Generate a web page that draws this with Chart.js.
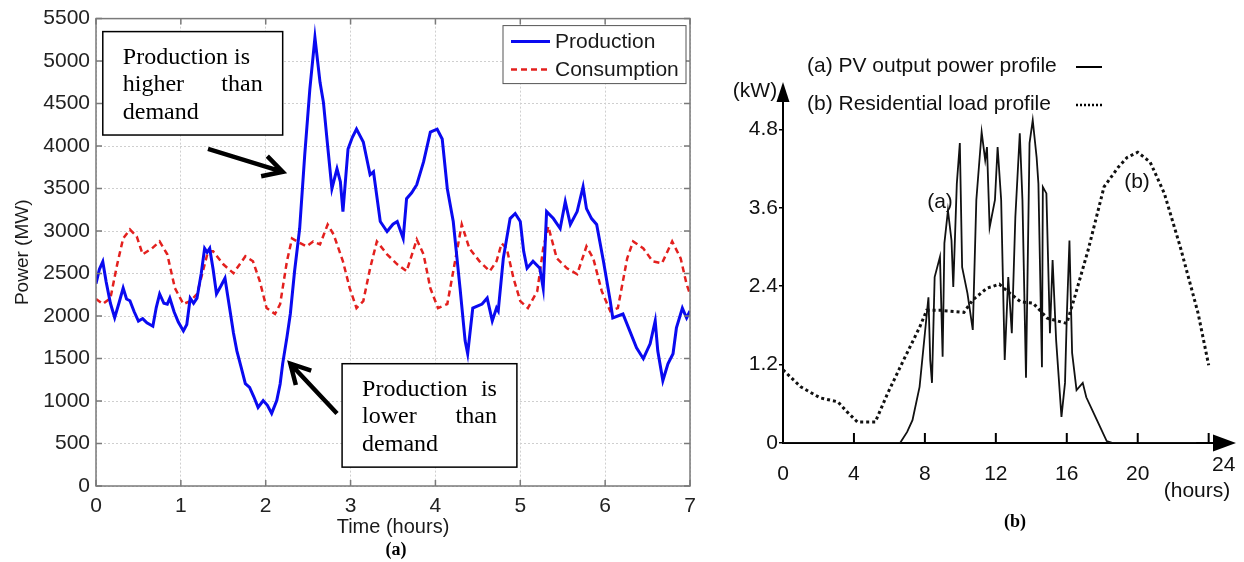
<!DOCTYPE html>
<html>
<head>
<meta charset="utf-8">
<script src="https://cdn.jsdelivr.net/npm/chart.js@4.4.0/dist/chart.umd.min.js"></script>
<style>
  html, body { margin: 0; padding: 0; background: #fff; width: 1244px; height: 562px; overflow: hidden; }
  #left { position: absolute; left: 0; top: 0; }
  #right { position: absolute; left: 705px; top: 0; }
</style>
</head>
<body>
<canvas id="left" width="705" height="562"></canvas>
<canvas id="right" width="539" height="562"></canvas>
<script>
// ---- (a) production vs consumption, 7 hours ----
const xTicksA = [0, 1, 2, 3, 4, 5, 6, 7];
const yTicksA = [0, 500, 1000, 1500, 2000, 2500, 3000, 3500, 4000, 4500, 5000, 5500];

const prodTime = [0.00, 0.04, 0.08, 0.12, 0.17, 0.22, 0.27, 0.32, 0.36, 0.40, 0.45, 0.50, 0.55, 0.60, 0.67, 0.71,
  0.75, 0.80, 0.84, 0.87, 0.92, 0.97, 1.03, 1.07, 1.11, 1.15, 1.19, 1.24, 1.28, 1.31, 1.34, 1.38, 1.42, 1.47,
  1.52, 1.55, 1.58, 1.62, 1.66, 1.71, 1.76, 1.81, 1.86, 1.91, 1.97, 2.02, 2.07, 2.13, 2.17, 2.20, 2.25, 2.29,
  2.34, 2.40, 2.46, 2.52, 2.58, 2.64, 2.68, 2.73, 2.78, 2.84, 2.88, 2.91, 2.97, 3.02, 3.07, 3.15, 3.23, 3.27,
  3.35, 3.43, 3.50, 3.55, 3.62, 3.66, 3.72, 3.78, 3.86, 3.94, 4.02, 4.08, 4.14, 4.21, 4.29, 4.35, 4.38, 4.44,
  4.50, 4.55, 4.61, 4.67, 4.72, 4.74, 4.80, 4.88, 4.94, 5.00, 5.04, 5.08, 5.15, 5.23, 5.27, 5.31, 5.39, 5.47,
  5.53, 5.59, 5.67, 5.74, 5.78, 5.84, 5.90, 5.98, 6.06, 6.09, 6.21, 6.29, 6.37, 6.45, 6.53, 6.59, 6.62, 6.68,
  6.74, 6.80, 6.84, 6.91, 6.96, 7.00];
const prodPower = [2380, 2550, 2640, 2400, 2150, 1980, 2150, 2330, 2200, 2180, 2050, 1940, 1970, 1920, 1880, 2100,
  2260, 2150, 2140, 2210, 2050, 1930, 1825, 1900, 2210, 2150, 2210, 2500, 2796, 2750, 2796, 2550, 2260, 2350,
  2445, 2250, 2060, 1800, 1590, 1400, 1205, 1160, 1050, 925, 1006, 950, 855, 1006, 1200, 1440, 1750, 2024,
  2527, 3030, 3900, 4670, 5277, 4750, 4516, 4000, 3498, 3732, 3580, 3229, 3966, 4100, 4200, 4048, 3662, 3697,
  3112, 2995, 3080, 3112, 2913, 3381, 3450, 3545, 3814, 4165, 4200, 4083, 3498, 3112, 2328, 1708, 1556, 2094,
  2120, 2141, 2211, 1942, 2094, 2059, 2679, 3147, 3206, 3112, 2761, 2562, 2644, 2562, 2328, 3229, 3147, 3030,
  3346, 3077, 3229, 3522, 3264, 3147, 3077, 2644, 2176, 1977, 2024, 1825, 1626, 1498, 1673, 1942, 1591, 1240,
  1439, 1556, 1860, 2094, 1977, 2059];

const consTime = [0.00, 0.08, 0.17, 0.25, 0.32, 0.40, 0.48, 0.55, 0.66, 0.75, 0.84, 0.93, 1.03, 1.11, 1.19, 1.26,
  1.32, 1.38, 1.50, 1.62, 1.76, 1.85, 1.93, 2.01, 2.11, 2.17, 2.25, 2.31, 2.37, 2.48, 2.56, 2.64, 2.73, 2.80,
  2.91, 2.99, 3.07, 3.15, 3.23, 3.31, 3.43, 3.55, 3.66, 3.78, 3.86, 3.94, 4.03, 4.14, 4.21, 4.31, 4.40, 4.52,
  4.64, 4.72, 4.78, 4.84, 4.92, 5.00, 5.09, 5.20, 5.27, 5.33, 5.43, 5.55, 5.67, 5.78, 5.86, 5.96, 6.06, 6.15,
  6.26, 6.33, 6.45, 6.56, 6.67, 6.79, 6.89, 6.96, 7.00];
const consPower = [2200, 2141, 2211, 2609, 2913, 3018, 2937, 2726, 2796, 2878, 2726, 2328, 2141, 2176, 2258, 2527,
  2761, 2761, 2609, 2504, 2703, 2644, 2410, 2094, 2024, 2141, 2644, 2913, 2878, 2820, 2878, 2843, 3077, 2960,
  2644, 2328, 2094, 2176, 2562, 2878, 2726, 2609, 2527, 2901, 2726, 2328, 2094, 2141, 2527, 3077, 2796, 2644,
  2527, 2644, 2855, 2796, 2445, 2176, 2094, 2293, 2796, 3054, 2679, 2562, 2492, 2820, 2679, 2293, 2059, 2094,
  2679, 2878, 2796, 2644, 2621, 2878, 2679, 2375, 2258];

const noteHigh = ['Production is', 'higher than', 'demand'];
const noteLow = ['Production is', 'lower than', 'demand'];

// ---- (b) PV output vs residential load, 24 hours ----
const xTicksB = [0, 4, 8, 12, 16, 20, 24];
const yTicksB = [0, 1.2, 2.4, 3.6, 4.8];

const pvHour = [0, 6.6, 7.0, 7.3, 7.7, 8.0, 8.2, 8.3, 8.4, 8.55, 8.85, 9.0, 9.1, 9.3, 9.5, 9.6, 9.8, 9.97, 10.1,
  10.4, 10.7, 10.9, 11.2, 11.4, 11.5, 11.65, 11.95, 12.1, 12.3, 12.5, 12.7, 12.9, 13.1, 13.35, 13.5, 13.7,
  13.9, 14.08, 14.3, 14.4, 14.6, 14.65, 14.85, 15.05, 15.2, 15.4, 15.7, 15.9, 16.0, 16.15, 16.3, 16.55, 16.9,
  17.1, 17.7, 18.25, 18.6, 23.3];
const pvKw = [0, 0, 0.17, 0.35, 0.86, 1.68, 2.23, 1.27, 0.92, 2.54, 2.85, 1.32, 3.06, 3.56, 3.1, 2.39, 3.97, 4.59, 2.69,
  2.29, 1.73, 3.72, 4.76, 4.33, 4.53, 3.30, 3.72, 4.53, 3.72, 1.27, 2.54, 1.68, 3.46, 4.74, 3.72, 1.0,
  4.59, 4.94, 4.37, 3.97, 1.16, 3.92, 3.82, 1.68, 2.8, 1.57, 0.4, 0.92, 1.93, 3.1, 1.38, 0.81, 0.92,
  0.7, 0.35, 0.03, 0, 0];

const loadHour = [0, 1, 2.1, 3.1, 3.6, 4.2, 5.2, 5.9, 6.8, 7.7, 8.1, 8.9, 10.2, 10.7, 11.5, 12.2, 12.8, 13.4, 14.1,
  14.9, 16.0, 16.4, 17.2, 18.1, 18.9, 19.4, 20.0, 20.7, 21.5, 22.4, 23.4, 24.0];
const loadKw = [1.12, 0.86, 0.69, 0.63, 0.48, 0.32, 0.32, 0.76, 1.27, 1.77, 2.03, 2.03, 2.0, 2.19, 2.37, 2.43, 2.29,
  2.16, 2.14, 1.91, 1.83, 2.19, 2.95, 3.92, 4.22, 4.37, 4.45, 4.3, 3.82, 3.0, 1.99, 1.19];

const OX = 705; // left edge of the right canvas on the page

Chart.defaults.font.family = '"Liberation Sans", Arial, sans-serif';
Chart.defaults.color = '#222';

const pts = (xs, ys) => xs.map((v, i) => ({ x: v, y: ys[i] }));
const SERIF = '"Liberation Serif", "Times New Roman", serif';

function arrow(ctx, x1, y1, x2, y2) {
  const ang = Math.atan2(y2 - y1, x2 - x1), L = 22, s = 0.5;
  ctx.beginPath();
  ctx.moveTo(x1, y1);
  ctx.lineTo(x2, y2);
  ctx.moveTo(x2 - L * Math.cos(ang - s), y2 - L * Math.sin(ang - s));
  ctx.lineTo(x2, y2);
  ctx.lineTo(x2 - L * Math.cos(ang + s), y2 - L * Math.sin(ang + s));
  ctx.stroke();
}

function noteBox(ctx, lines, justify, l, t, r, b) {
  ctx.fillStyle = '#fff';
  ctx.fillRect(l, t, r - l, b - t);
  ctx.strokeStyle = '#000';
  ctx.lineWidth = 1.5;
  ctx.strokeRect(l, t, r - l, b - t);
  ctx.fillStyle = '#000';
  ctx.font = '24px ' + SERIF;
  ctx.textBaseline = 'alphabetic';
  lines.forEach((ln, i) => {
    const by = t + 32 + i * 27.5;
    const words = ln.split(' ');
    ctx.textAlign = 'left';
    if (!justify[i] || words.length < 2) { ctx.fillText(ln, l + 20, by); return; }
    ctx.fillText(words[0], l + 20, by);
    ctx.textAlign = 'right';
    ctx.fillText(words[words.length - 1], r - 20, by);
  });
}

const leftDecor = {
  id: 'leftDecor',
  afterDraw(chart) {
    const { ctx, chartArea: a, scales: { x, y } } = chart;
    ctx.save();
    // axes box and inner ticks
    ctx.strokeStyle = '#7a7a7a';
    ctx.lineWidth = 1.5;
    ctx.strokeRect(a.left, a.top, a.right - a.left, a.bottom - a.top);
    ctx.beginPath();
    yTicksA.forEach(v => {
      const py = y.getPixelForValue(v);
      ctx.moveTo(a.left, py); ctx.lineTo(a.left + 6, py);
      ctx.moveTo(a.right, py); ctx.lineTo(a.right - 6, py);
    });
    xTicksA.forEach(t => {
      const px = x.getPixelForValue(t);
      ctx.moveTo(px, a.bottom); ctx.lineTo(px, a.bottom - 6);
      ctx.moveTo(px, a.top); ctx.lineTo(px, a.top + 6);
    });
    ctx.stroke();

    // legend
    const lx = a.right - 187, ly = a.top + 7;
    ctx.fillStyle = '#fff';
    ctx.fillRect(lx, ly, 183, 58);
    ctx.strokeStyle = '#555';
    ctx.lineWidth = 1;
    ctx.strokeRect(lx, ly, 183, 58);
    ctx.font = '21px "Liberation Sans", Arial, sans-serif';
    ctx.textAlign = 'left';
    ctx.textBaseline = 'middle';
    chart.data.datasets.forEach((ds, i) => {
      const yy = ly + 16 + i * 28;
      ctx.strokeStyle = ds.borderColor;
      ctx.lineWidth = ds.borderWidth;
      ctx.setLineDash(ds.borderDash || []);
      ctx.beginPath(); ctx.moveTo(lx + 8, yy); ctx.lineTo(lx + 47, yy); ctx.stroke();
      ctx.setLineDash([]);
      ctx.fillStyle = '#1a1a1a';
      ctx.fillText(ds.label, lx + 52, yy + 1);
    });

    // annotation boxes and arrows
    noteBox(ctx, noteHigh, [false, true, false],
      x.getPixelForValue(0.08), y.getPixelForValue(5347), x.getPixelForValue(2.2), y.getPixelForValue(4130));
    noteBox(ctx, noteLow, [true, true, false],
      x.getPixelForValue(2.9), y.getPixelForValue(1439), x.getPixelForValue(4.96), y.getPixelForValue(222));
    ctx.strokeStyle = '#000';
    ctx.lineWidth = 4.5;
    arrow(ctx, x.getPixelForValue(1.32), y.getPixelForValue(3966), x.getPixelForValue(2.2), y.getPixelForValue(3697));
    arrow(ctx, x.getPixelForValue(2.84), y.getPixelForValue(854), x.getPixelForValue(2.29), y.getPixelForValue(1439));

    // caption
    ctx.fillStyle = '#000';
    ctx.font = 'bold 18px ' + SERIF;
    ctx.textAlign = 'center';
    ctx.textBaseline = 'middle';
    ctx.fillText('(a)', 396, 550);
    ctx.restore();
  }
};

new Chart(document.getElementById('left'), {
  type: 'line',
  data: {
    datasets: [{
      label: 'Production',
      data: pts(prodTime, prodPower),
      borderColor: '#0a0af0',
      borderWidth: 3,
      pointRadius: 0,
      tension: 0
    }, {
      label: 'Consumption',
      data: pts(consTime, consPower),
      borderColor: '#e3201e',
      borderWidth: 2.5,
      borderDash: [6, 4],
      pointRadius: 0,
      tension: 0
    }]
  },
  options: {
    responsive: false,
    animation: false,
    devicePixelRatio: 1,
    layout: { padding: { left: 0, top: 16, right: 15, bottom: 0 } },
    plugins: { legend: { display: false }, tooltip: { enabled: false } },
    scales: {
      x: {
        type: 'linear', min: 0, max: 7,
        afterBuildTicks: s => { s.ticks = xTicksA.map(v => ({ value: v })); },
        afterFit: s => { s.height = 76; },
        ticks: { padding: 8, font: { size: 21 }, color: '#222', callback: v => String(v) },
        grid: { color: '#cfcfcf', lineWidth: 1, drawTicks: false },
        border: { display: false, dash: [2, 2] },
        title: { display: true, text: 'Time (hours)', font: { size: 20 }, color: '#1a1a1a', padding: { top: 0, bottom: 23 } }
      },
      y: {
        type: 'linear', min: 0, max: 5500,
        afterBuildTicks: s => { s.ticks = yTicksA.map(v => ({ value: v })); },
        afterFit: s => { s.width = 96; },
        ticks: { padding: 6, font: { size: 21 }, color: '#222', callback: v => String(v) },
        grid: { color: '#cfcfcf', lineWidth: 1, drawTicks: false },
        border: { display: false, dash: [2, 2] },
        title: { display: true, text: 'Power (MW)', font: { size: 19 }, color: '#1a1a1a', padding: { top: 11, bottom: 0 } }
      }
    }
  },
  plugins: [leftDecor]
});

const rightDecor = {
  id: 'rightDecor',
  afterDraw(chart) {
    const { ctx, chartArea: a, scales: { x, y } } = chart;
    const ax = x.getPixelForValue(0), ay = y.getPixelForValue(0);
    ctx.save();
    ctx.fillStyle = '#000';
    ctx.strokeStyle = '#000';
    // arrow heads on both axes
    ctx.beginPath();
    ctx.moveTo(ax, a.top - 18); ctx.lineTo(ax - 6.5, a.top + 2); ctx.lineTo(ax + 6.5, a.top + 2);
    ctx.closePath(); ctx.fill();
    ctx.beginPath();
    ctx.moveTo(a.right + 22, ay); ctx.lineTo(a.right - 1, ay - 8.5); ctx.lineTo(a.right - 1, ay + 8.5);
    ctx.closePath(); ctx.fill();
    // inner tick marks on the time axis
    ctx.lineWidth = 2;
    ctx.beginPath();
    xTicksB.forEach(h => {
      if (h === 0) return;
      const px = x.getPixelForValue(h);
      ctx.moveTo(px, ay); ctx.lineTo(px, ay - 10);
    });
    ctx.stroke();

    ctx.font = '21px "Liberation Sans", Arial, sans-serif';
    ctx.textBaseline = 'middle';
    ctx.textAlign = 'center';
    ctx.fillStyle = '#111';
    ctx.fillText('(kW)', 755 - OX, 91);
    ctx.fillText('24', x.getPixelForValue(24) + 15, 465);
    ctx.fillText('(hours)', 1197 - OX, 491);
    ctx.fillText('(a)', 940 - OX, 202);
    ctx.fillText('(b)', 1137 - OX, 182);

    // legend
    ctx.textAlign = 'left';
    chart.data.datasets.forEach((ds, i) => {
      const yy = 66 + i * 38;
      ctx.fillStyle = '#111';
      ctx.fillText(ds.label, 807 - OX, yy);
      ctx.strokeStyle = '#000';
      ctx.lineWidth = i === 0 ? 2 : 2.5;
      ctx.setLineDash(i === 0 ? [] : [2, 2]);
      ctx.beginPath(); ctx.moveTo(1076 - OX, yy + 1); ctx.lineTo(1102 - OX, yy + 1); ctx.stroke();
      ctx.setLineDash([]);
    });

    // caption
    ctx.fillStyle = '#000';
    ctx.font = 'bold 18px ' + SERIF;
    ctx.textAlign = 'center';
    ctx.fillText('(b)', 1015 - OX, 522);
    ctx.restore();
  }
};

new Chart(document.getElementById('right'), {
  type: 'line',
  data: {
    datasets: [{
      label: '(a) PV output power profile',
      data: pts(pvHour, pvKw),
      borderColor: '#111',
      borderWidth: 1.8,
      pointRadius: 0,
      tension: 0
    }, {
      label: '(b) Residential load profile',
      data: pts(loadHour, loadKw),
      borderColor: '#111',
      borderWidth: 3,
      borderDash: [3, 3],
      pointRadius: 0,
      tension: 0
    }]
  },
  options: {
    responsive: false,
    animation: false,
    devicePixelRatio: 1,
    layout: { padding: { left: 0, top: 100, right: 30, bottom: 0 } },
    plugins: { legend: { display: false }, tooltip: { enabled: false } },
    scales: {
      x: {
        type: 'linear', min: 0, max: 24.3,
        afterBuildTicks: s => { s.ticks = xTicksB.map(v => ({ value: v })); },
        afterFit: s => { s.height = 119; },
        ticks: { padding: 11, font: { size: 21 }, color: '#111', callback: v => (v === 24 ? '' : String(v)) },
        grid: { display: false },
        border: { display: true, color: '#000', width: 2 }
      },
      y: {
        type: 'linear', min: 0, max: 5.25,
        afterBuildTicks: s => { s.ticks = yTicksB.map(v => ({ value: v })); },
        afterFit: s => { s.width = 78; },
        ticks: { padding: 1, font: { size: 21 }, color: '#111', callback: v => (v === 0 ? '0' : v.toFixed(1)) },
        grid: { display: true, drawOnChartArea: false, drawTicks: true, tickLength: 4, color: '#000', lineWidth: 1.5 },
        border: { display: true, color: '#000', width: 2 }
      }
    }
  },
  plugins: [rightDecor]
});
</script>
</body>
</html>
